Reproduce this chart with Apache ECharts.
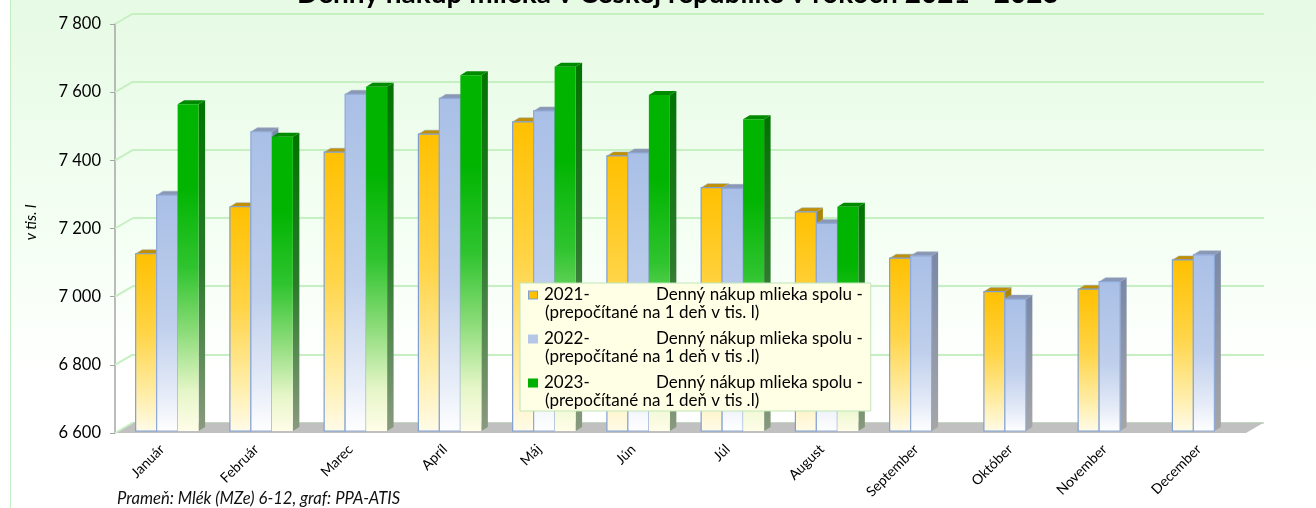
<!DOCTYPE html>
<html>
<head>
<meta charset="utf-8">
<script src="https://cdn.jsdelivr.net/npm/echarts@6/dist/echarts.min.js"></script>
<style>
  html, body { margin: 0; padding: 0; background: #ffffff; }
  #chart { width: 1316px; height: 508px; }
</style>
</head>
<body>
<div id="chart"></div>
<script>
// ---- data ----
const categories = ['Január', 'Február', 'Marec', 'Apríl', 'Máj', 'Jún', 'Júl', 'August', 'September', 'Október', 'November', 'December'];
const values2021 = [7120, 7258, 7418, 7471, 7507, 7407, 7314, 7243, 7107, 7009, 7016, 7102];
const values2022 = [7292, 7478, 7588, 7576, 7539, 7416, 7312, 7209, 7114, 6987, 7038, 7117];
const values2023 = [7559, 7463, 7610, 7644, 7669, 7586, 7515, 7258, null, null, null, null];
const seriesNames = ['2021', '2022', '2023'];
const legendFirst = ['2021-', '2022-', '2023-'];
const legendMain = 'Denný nákup mlieka spolu -';
const legendSecond = ['(prepočítané na 1 deň v tis. l)', '(prepočítané na 1 deň v tis .l)', '(prepočítané na 1 deň v tis .l)'];
const titleText = 'Denný nákup mlieka v Českej republike v rokoch 2021 - 2023';
const yAxisName = 'v tis. l';
const sourceText = 'Prameň: Mlék (MZe) 6-12, graf: PPA-ATIS';
const yMin = 6600, yMax = 7800, yStep = 200;

// ---- style ----
const FONT = 'Lato, "Liberation Sans", sans-serif';
const GAP = 0.332;      // category gap fraction
const BDX = 6.5, BDY = -4;  // bar depth offset
const WDX = 18, WDY = -10.5; // wall depth offset

function lg(stops) {
  return { type: 'linear', x: 0, y: 0, x2: 0, y2: 1, colorStops: stops.map(s => ({ offset: s[0], color: s[1] })) };
}
const styles = [
  { front: [[0, '#ffc000'], [0.45, '#ffd447'], [0.8, '#ffeeaa'], [1, '#fffbe8']], side: [[0, '#a88400'], [1, '#d6cfae']], top: '#c09000', stroke: '#7f9fd3', icon: '#ffc000' },
  { front: [[0, '#a9bfe6'], [0.55, '#bfcfec'], [0.85, '#e6ecf8'], [1, '#ffffff']], side: [[0, '#7a88a6'], [1, '#a6a6a6']], top: '#8a98b6', stroke: '#8fa9d6', icon: '#b4c7e7' },
  { front: [[0, '#00b400'], [0.25, '#00b400'], [0.5, '#2fc42f'], [0.7, '#8ddc7a'], [0.88, '#e6f6c8'], [1, '#fffde8']], side: [[0, '#007400'], [0.5, '#2a7a2a'], [1, '#8a9a80']], top: '#008a00', stroke: null, icon: '#00b000' }
];

function makeRender(s) {
  return function (params, api) {
    const idx = api.value(0), v = api.value(1);
    if (v == null || isNaN(v)) return;
    const c = api.coord([idx, v]);
    const base = api.coord([idx, yMin]);
    const cw = api.size([1, 0])[0];
    const bw = cw * (1 - GAP) / 3;
    const L = c[0] - 1.5 * bw + s * bw;
    const R = L + bw;
    const t = c[1], b = base[1];
    const st = styles[s];
    const children = [
      { type: 'polygon', shape: { points: [[R, t], [R + BDX, t + BDY], [R + BDX, b + BDY], [R, b]] }, style: { fill: lg(st.side) } },
      { type: 'polygon', shape: { points: [[L, t], [R, t], [R + BDX, t + BDY], [L + BDX, t + BDY]] }, style: { fill: st.top, stroke: st.stroke ? '#9aa8c0' : null, lineWidth: 0.5 } },
      { type: 'rect', shape: { x: L, y: t, width: bw, height: b - t }, style: { fill: lg(st.front), stroke: st.stroke, lineWidth: st.stroke ? 1.2 : 0 } }
    ];
    return { type: 'group', children: children };
  };
}

const ticks = [];
for (let v = yMin; v <= yMax; v += yStep) ticks.push(v);

const chart = echarts.init(document.getElementById('chart'), null, { renderer: 'canvas' });

const LFS = 17;
const rich = {
  a: { width: 112, fontSize: LFS, fontFamily: FONT, color: '#000', lineHeight: 18 },
  b: { fontSize: LFS, fontFamily: FONT, color: '#000', lineHeight: 18 },
  c: { fontSize: LFS, fontFamily: FONT, color: '#000', lineHeight: 18 },
  g: { width: 7, fontSize: LFS, lineHeight: 18 },
  h: { width: 16, fontSize: LFS, lineHeight: 18 }
};
styles.forEach((st, i) => {
  rich['i' + i] = { width: 8, height: 7, backgroundColor: st.icon, borderColor: i === 0 ? '#7f9fd3' : st.icon, borderWidth: 1, lineHeight: 18 };
});

const option = {
  animation: false,
  backgroundColor: 'transparent',
  graphic: [
    { type: 'rect', left: 10, top: 0, z: -10, shape: { width: 1306, height: 508 },
      style: { fill: lg([[0, '#e6fae4'], [0.45, '#f4fff3'], [0.75, '#ffffff'], [1, '#ffffff']]) } },
    { type: 'rect', left: 10, top: 0, z: -9, shape: { width: 1, height: 508 }, style: { fill: '#c4eec4' } },
    { type: 'text', left: 117, top: 490, style: { text: sourceText, font: 'italic 16.6px ' + FONT, fill: '#111' } }
  ],
  title: {
    text: titleText, left: 292, top: -25,
    textStyle: { fontFamily: FONT, fontWeight: 'bold', fontSize: 28, color: '#000' }
  },
  legend: {
    orient: 'vertical', left: 520, top: 283, z: 30,
    padding: [3, 8, 1, 4], itemGap: 8,
    itemWidth: 0, itemHeight: 0, icon: 'rect',
    backgroundColor: '#ffffe6', borderColor: '#bfe6b8', borderWidth: 1,
    data: seriesNames,
    selectedMode: false,
    formatter: function (name) {
      const i = seriesNames.indexOf(name);
      return '{i' + i + '| }{g| }{a|' + legendFirst[i] + '}{b|' + legendMain + '}\n{h| }{c|' + legendSecond[i] + '}';
    },
    textStyle: { rich: rich, fontFamily: FONT, fontSize: LFS, lineHeight: 18 }
  },
  grid: [
    { left: 115, right: 70, top: 24, bottom: 75 },               // front (axis, labels)
    { left: 115 + WDX, right: 70 - WDX, top: 24 + WDY, bottom: 75 - WDY }, // back wall
    { left: 120, right: 65, top: 22, bottom: 77 }                // bars
  ],
  xAxis: [
    { type: 'category', gridIndex: 0, data: categories,
      axisLine: { show: false }, axisTick: { show: false },
      axisLabel: { rotate: 45, fontFamily: FONT, fontSize: 14, color: '#000', margin: 14, interval: 0 } },
    { type: 'category', gridIndex: 1, data: categories, show: false },
    { type: 'category', gridIndex: 2, data: categories, show: false }
  ],
  yAxis: [
    { type: 'value', gridIndex: 0, min: yMin, max: yMax, interval: yStep,
      name: yAxisName, nameLocation: 'middle', nameGap: 76, nameRotate: 90,
      nameTextStyle: { fontFamily: FONT, fontStyle: 'italic', fontSize: 15, color: '#000', padding: [0, 0, 0, 12] },
      axisLine: { show: true, lineStyle: { color: '#a6a6a6', width: 1.5 } },
      axisTick: { show: true, length: 5, lineStyle: { color: '#a6a6a6' } },
      splitLine: { show: false },
      axisLabel: { fontFamily: FONT, fontSize: 16.5, color: '#000', margin: 14,
        formatter: v => String(v).replace(/\B(?=(\d{3})+(?!\d))/g, ' ') } },
    { type: 'value', gridIndex: 1, min: yMin, max: yMax, interval: yStep,
      axisLine: { show: false }, axisTick: { show: false }, axisLabel: { show: false },
      splitLine: { show: true, lineStyle: { color: '#c6efc2', width: 2 } } },
    { type: 'value', gridIndex: 2, min: yMin, max: yMax, interval: yStep, show: false, splitLine: { show: false } }
  ],
  series: [
    { type: 'custom', name: 'walls', xAxisIndex: 0, yAxisIndex: 0, z: 1, silent: true,
      data: ticks.map(t => [0, t]),
      renderItem: function (params, api) {
        const cs = params.coordSys;
        const y = api.coord([0, api.value(1)])[1];
        const x0 = cs.x;
        const children = [
          { type: 'line', shape: { x1: x0, y1: y, x2: x0 + WDX, y2: y + WDY }, style: { stroke: '#c6efc2', lineWidth: 2 } }
        ];
        if (params.dataIndex === 0) {
          const yb = cs.y + cs.height;
          children.unshift({ type: 'polygon', shape: { points: [[x0, yb], [x0 + cs.width, yb], [x0 + cs.width + WDX, yb + WDY], [x0 + WDX, yb + WDY]] },
            style: { fill: '#c0c0c0' } });
        }
        return { type: 'group', children: children };
      } },
    ...[values2021, values2022, values2023].map((vals, s) => ({
      type: 'custom', name: seriesNames[s], xAxisIndex: 2, yAxisIndex: 2, z: 3 + s,
      itemStyle: { color: styles[s].icon },
      data: vals.map((v, i) => [i, v]),
      renderItem: makeRender(s)
    }))
  ]
};
chart.setOption(option);
</script>
</body>
</html>
